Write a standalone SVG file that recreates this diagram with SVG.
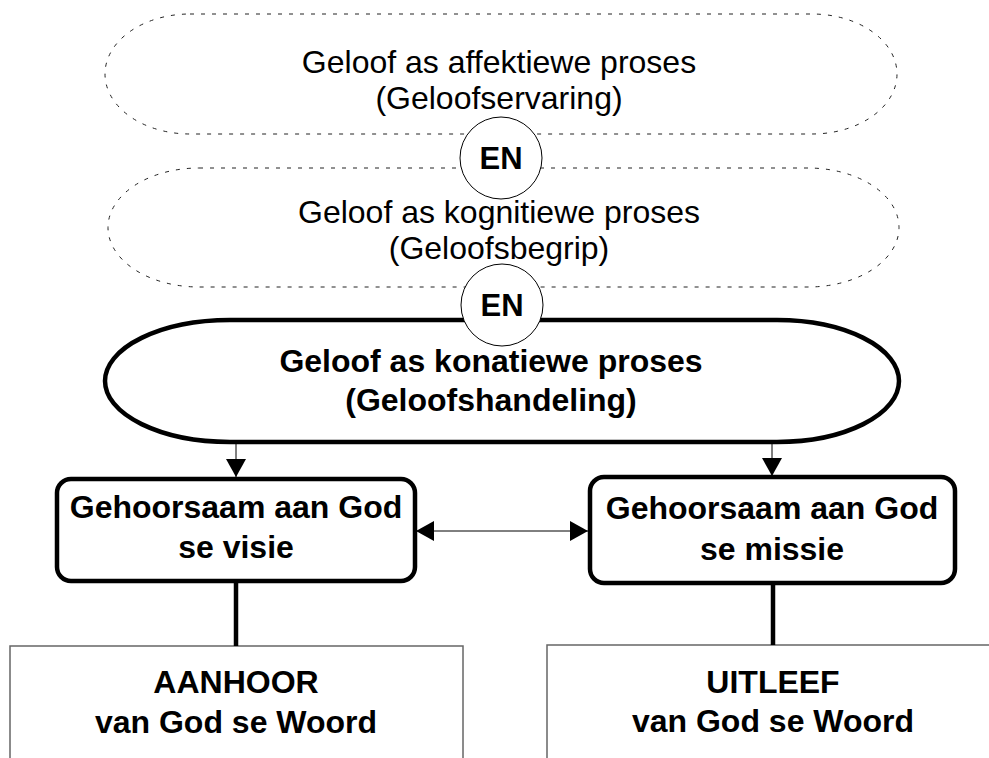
<svg xmlns="http://www.w3.org/2000/svg" width="989" height="758" viewBox="0 0 989 758">
<style>
text{font-family:"Liberation Sans",Arial,sans-serif;fill:#000;text-anchor:middle}
.r{font-size:32px}
.b{font-size:32px;font-weight:bold}
.dash{fill:#fff;stroke:#222;stroke-width:1;stroke-dasharray:4 7}
.thick{fill:#fff;stroke:#000;stroke-width:4.5}
.circ{fill:#fff;stroke:#000;stroke-width:1}
.thin{stroke:#000;stroke-width:1;fill:none}
.bar{stroke:#000;stroke-width:4.5;fill:none}
.plain{fill:#fff;stroke:#666;stroke-width:1.5}
</style>
<defs>
<marker id="ah" markerUnits="userSpaceOnUse" markerWidth="18" markerHeight="20" refX="18" refY="10" orient="auto-start-reverse" viewBox="0 0 18 20">
<path d="M0,0 L18,10 L0,20 Z" fill="#000"/>
</marker>
</defs>
<g id="affektief">
<path class="dash" d="M190,14 H812 A85,60 0 0 1 812,134 H190 A85,60 0 0 1 190,14 Z"/>
<text class="r" x="499" y="73">Geloof as affektiewe proses</text>
<text class="r" x="499" y="109">(Geloofservaring)</text>
</g>
<g id="kognitief">
<path class="dash" d="M199,168 H808 A91,59.5 0 0 1 808,287 H199 A91,59.5 0 0 1 199,168 Z"/>
<text class="r" x="499" y="223">Geloof as kognitiewe proses</text>
<text class="r" x="499" y="259">(Geloofsbegrip)</text>
</g>
<g id="konatief">
<path class="thick" d="M230,320 H777 A122,61 0 0 1 777,442 H230 A125,61 0 0 1 230,320 Z"/>
<text class="b" x="491" y="372">Geloof as konatiewe proses</text>
<text class="b" x="491" y="411">(Geloofshandeling)</text>
</g>
<g id="en1">
<circle class="circ" cx="501" cy="158" r="41"/>
<text class="b" x="501" y="169" style="font-size:31px">EN</text>
</g>
<g id="en2">
<circle class="circ" cx="502" cy="305" r="41"/>
<text class="b" x="502" y="316" style="font-size:31px">EN</text>
</g>
<g id="visie">
<rect class="thick" x="57" y="479" width="358" height="102" rx="14"/>
<text class="b" x="236" y="518">Gehoorsaam aan God</text>
<text class="b" x="236" y="558">se visie</text>
</g>
<g id="missie">
<rect class="thick" x="590" y="477" width="365" height="106" rx="14"/>
<text class="b" x="772" y="519">Gehoorsaam aan God</text>
<text class="b" x="772" y="560">se missie</text>
</g>
<g id="aanhoor">
<rect class="plain" x="10" y="646" width="453" height="130"/>
<text class="b" x="236" y="693">AANHOOR</text>
<text class="b" x="236" y="733">van God se Woord</text>
</g>
<g id="uitleef">
<rect class="plain" x="547" y="645" width="460" height="130"/>
<text class="b" x="773" y="693">UITLEEF</text>
<text class="b" x="773" y="732">van God se Woord</text>
</g>
<g id="connectors">
<line class="thin" x1="236" y1="443" x2="236" y2="477" marker-end="url(#ah)"/>
<line class="thin" x1="772" y1="443" x2="772" y2="476" marker-end="url(#ah)"/>
<line class="thin" x1="416" y1="531" x2="588" y2="531" marker-start="url(#ah)" marker-end="url(#ah)"/>
<line class="bar" x1="236" y1="581" x2="236" y2="646"/>
<line class="bar" x1="773" y1="583" x2="773" y2="645"/>
</g>
</svg>
